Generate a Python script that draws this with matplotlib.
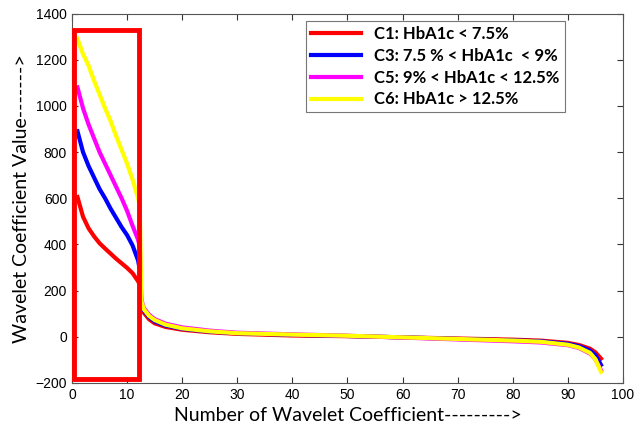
import matplotlib
matplotlib.use("Agg")
import matplotlib.pyplot as plt
from matplotlib.patches import Rectangle

coef_idx = [1, 2, 3, 4, 5, 6, 7, 8, 9, 10, 11, 12, 12.3, 12.6, 13, 14, 15, 17, 20, 25, 30,
            40, 50, 60, 70, 80, 85, 90, 92, 94, 95, 96]

c1 = [605, 520, 470, 435, 405, 382, 360, 338, 318, 298, 275, 240, 225, 130, 105, 75, 58, 42, 30, 19, 12,
      5, 2, -3, -8, -13, -17, -27, -36, -52, -68, -95]
c3 = [890, 800, 740, 690, 640, 600, 555, 515, 475, 440, 395, 330, 290, 140, 115, 85, 66, 48, 34, 22, 15,
      8, 3, -3, -10, -16, -20, -31, -41, -60, -80, -122]
c5 = [1080, 990, 920, 860, 800, 750, 700, 650, 600, 545, 480, 420, 390, 160, 125, 95, 76, 56, 40, 26, 17,
      10, 4, -4, -12, -20, -25, -37, -49, -73, -98, -145]
c6 = [1290, 1225, 1175, 1110, 1050, 990, 935, 870, 810, 750, 680, 600, 570, 155, 120, 90, 72, 52, 36, 23, 15,
      9, 4, -3, -10, -17, -22, -35, -47, -70, -98, -152]

labels = ["C1: HbA1c < 7.5%", "C3: 7.5 % < HbA1c  < 9%",
          "C5: 9% < HbA1c < 12.5%", "C6: HbA1c > 12.5%"]
colors = ["#ff0000", "#0000ff", "#ff00ff", "#ffff00"]

x_ticks = [0, 10, 20, 30, 40, 50, 60, 70, 80, 90, 100]
y_ticks = [-200, 0, 200, 400, 600, 800, 1000, 1200, 1400]

# highlight box corners (data units)
box_x = [0.35, 12.2]
box_y = [-185, 1330]

fig = plt.figure(figsize=(6.37, 4.38), dpi=100)
ax = fig.add_axes([0.113, 0.126, 0.865, 0.843])

for ys, lab, col in zip([c1, c3, c5, c6], labels, colors):
    ax.plot(coef_idx, ys, color=col, lw=3, label=lab, solid_joinstyle="round")

rect = Rectangle((box_x[0], box_y[0]), box_x[1] - box_x[0], box_y[1] - box_y[0],
                 fill=False, edgecolor="#ff0000", lw=3.5, zorder=5)
ax.add_patch(rect)

ax.set_xlim(0, 100)
ax.set_ylim(-200, 1400)
ax.set_xticks(x_ticks)
ax.set_yticks(y_ticks)
ax.tick_params(direction="in", top=True, right=True, length=4, width=0.8,
               labelsize=10, color="#333333")
for lbl in ax.get_xticklabels() + ax.get_yticklabels():
    lbl.set_family("Liberation Sans")
for s in ax.spines.values():
    s.set_color("#555555")
    s.set_linewidth(0.8)

ax.set_xlabel("Number of Wavelet Coefficient--------->", fontsize=14, family="Lato", labelpad=4)
ax.set_ylabel("Wavelet Coefficient Value------->", fontsize=14, family="Lato", labelpad=4)

leg = ax.legend(loc="upper left", bbox_to_anchor=(0.425, 0.98), frameon=True, fancybox=False,
                borderaxespad=0, edgecolor="#555555", handlelength=3.0, borderpad=0.3,
                labelspacing=0.35,
                prop={"family": "Lato", "weight": "bold", "size": 12})
leg.get_frame().set_linewidth(0.8)

fig.savefig("out.png", dpi=100)
